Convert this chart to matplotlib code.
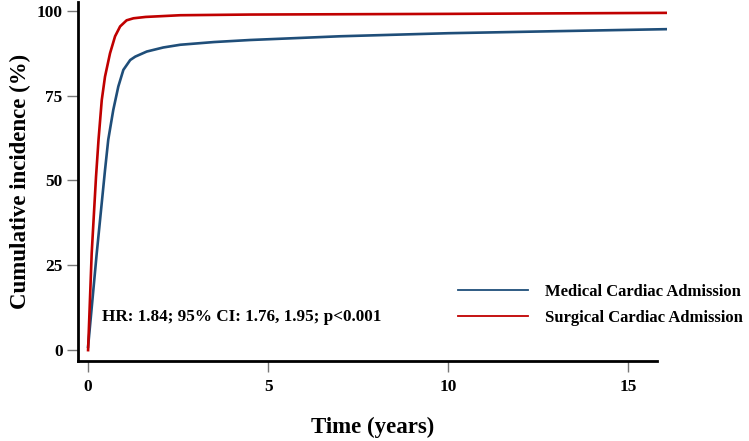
import numpy as np
import matplotlib.pyplot as plt

plt.rcParams['font.family'] = ['Liberation Serif', 'DejaVu Serif']
plt.rcParams['font.weight'] = 'bold'

# values
med_t = [0, 0.24, 0.47, 0.56, 0.7, 0.84, 0.98, 1.17, 1.31, 1.63, 2.09, 2.56, 3.5, 4.5, 7.0, 10.0, 13.0, 16.1]
med_v = [1, 28.5, 53, 62, 70.8, 77.7, 82.6, 85.5, 86.5, 88, 89.2, 90, 90.8, 91.4, 92.5, 93.4, 94.0, 94.6]
sur_t = [0, 0.1, 0.22, 0.29, 0.38, 0.47, 0.61, 0.75, 0.89, 1.07, 1.26, 1.6, 2.56, 4.5, 10.0, 16.1]
sur_v = [0, 28.5, 51, 62, 73.7, 80.6, 87.5, 92.5, 95.4, 97.2, 97.8, 98.2, 98.7, 98.9, 99.1, 99.4]

labels = ["Medical Cardiac Admission", "Surgical Cardiac Admission"]
colors = ["#1F4E79", "#C00000"]
hr_text = "HR: 1.84; 95% CI: 1.76, 1.95; p<0.001"

fig = plt.figure(figsize=(7.49, 4.41), dpi=100)
ax = fig.add_axes([78/749, 80/441, (667-78)/749, (361-2)/441])

ax.plot(med_t, med_v, color=colors[0], lw=1.9, label=labels[0])
ax.plot(sur_t, sur_v, color=colors[1], lw=1.9, label=labels[1])

ax.set_xlim(-0.28, 16.08)
ax.set_ylim(-3.2, 102.6)
ax.spines['top'].set_visible(False)
ax.spines['right'].set_visible(False)
ax.spines['left'].set_linewidth(2)
ax.spines['bottom'].set_linewidth(2)
ax.spines['bottom'].set_bounds(-0.28, 15.8)

ax.set_xticks([0, 5, 10, 15])
ax.set_yticks([0, 25, 50, 75, 100])
ax.tick_params(axis='both', length=8, width=1, color='#777777', labelsize=12.5)
ax.tick_params(axis='x', pad=5)
ax.tick_params(axis='y', pad=3)

ax.set_xlabel("Time (years)", fontsize=16.5, fontweight='bold', labelpad=16)
ax.set_ylabel("Cumulative incidence (%)", fontsize=16.5, fontweight='bold', labelpad=4)

ax.text(0.4, 9.8, hr_text, fontsize=12.3, fontweight='bold', va='center')

leg = ax.legend(loc='lower left', bbox_to_anchor=(0.62, 0.055), frameon=False,
                fontsize=12, handlelength=4.2, handletextpad=1.0, labelspacing=0.6)
for line in leg.get_lines():
    line.set_linewidth(1.3)

fig.savefig("out.png", dpi=100)
